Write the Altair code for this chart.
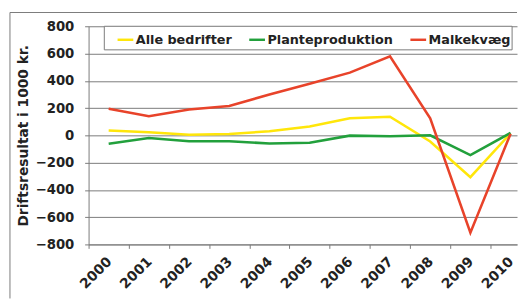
import altair as alt
import pandas as pd

years = list(range(2000, 2011))
series_names = ["Alle bedrifter", "Planteproduktion", "Malkekvæg"]
alle = [35, 22, 5, 10, 30, 65, 125, 137, -45, -307, 15]
plante = [-62, -19, -43, -43, -60, -55, -2, -7, 0, -145, 18]
malk = [195, 140, 190, 215, 300, 378, 460, 580, 125, -714, 12]
colors = ["#FFE60A", "#22A03C", "#E8432A"]
y_ticks = [-800, -600, -400, -200, 0, 200, 400, 600, 800]
x_ticks = [y - 0.5 for y in years]

rows = []
for name, vals in zip(series_names, [alle, plante, malk]):
    for yr, v in zip(years, vals):
        rows.append({"year": yr, "value": v, "serie": name})
df = pd.DataFrame(rows)

W, H = 436, 222
FONT = "DejaVu Sans"
GRAY = "#7a7a7a"

one = alt.Data(values=[{"a": 1}])

frame_left = alt.Chart(one).mark_rule(color=GRAY, strokeWidth=1).encode(
    x=alt.value(-80), y=alt.value(-14), y2=alt.value(277)
)
frame_top = alt.Chart(one).mark_rule(color=GRAY, strokeWidth=1).encode(
    x=alt.value(-80), x2=alt.value(W), y=alt.value(-14)
)
legend_box = alt.Chart(one).mark_rect(fill="white", stroke=GRAY, strokeWidth=1).encode(
    x=alt.value(16), x2=alt.value(431), y=alt.value(0), y2=alt.value(24)
)

lines = alt.Chart(df).mark_line(strokeWidth=2.6).encode(
    x=alt.X(
        "year:Q",
        scale=alt.Scale(domain=[1999.5, 1999.5 + W / 40.9], nice=False, zero=False),
        axis=alt.Axis(
            values=x_ticks,
            labelExpr="format(datum.value + 0.5, 'd')",
            labelOffset=21,
            labelAngle=-45,
            labelAlign="right",
            labelBaseline="middle",
            labelPadding=11,
            labelFont=FONT,
            labelFontWeight="bold",
            labelFontSize=14,
            labelColor="#222",
            tickSize=4,
            tickColor=GRAY,
            domainColor=GRAY,
            grid=False,
            title=None,
            labelOverlap=False,
        ),
    ),
    y=alt.Y(
        "value:Q",
        scale=alt.Scale(domain=[-800, 800], nice=False),
        axis=alt.Axis(
            values=y_ticks,
            title="Driftsresultat i 1000 kr.",
            titleFont=FONT,
            titleFontWeight="bold",
            titleFontSize=14,
            titleColor="#222",
            titlePadding=5,
            labelFont=FONT,
            labelFontWeight="bold",
            labelFontSize=13.5,
            labelColor="#222",
            labelPadding=11,
            tickSize=4,
            tickColor=GRAY,
            domainColor=GRAY,
            gridColor=GRAY,
            grid=True,
        ),
    ),
    color=alt.Color(
        "serie:N",
        scale=alt.Scale(domain=series_names, range=colors),
        sort=series_names,
        legend=alt.Legend(
            title=None,
            orient="none",
            direction="horizontal",
            legendX=28,
            legendY=4,
            symbolType="stroke",
            symbolSize=256,
            symbolStrokeWidth=2.5,
            labelFont=FONT,
            labelFontWeight="bold",
            labelFontSize=13,
            labelColor="#222",
            labelOffset=1,
            columnPadding=12,
            padding=0,
        ),
    ),
)

chart = alt.layer(frame_left, frame_top, legend_box, lines).properties(
    width=W, height=H, background="white",
    padding={"left": 1, "top": 1, "right": 0, "bottom": 0},
).configure_view(stroke=None)

chart.save("out.html", embed_options={"renderer": "svg", "actions": False})
